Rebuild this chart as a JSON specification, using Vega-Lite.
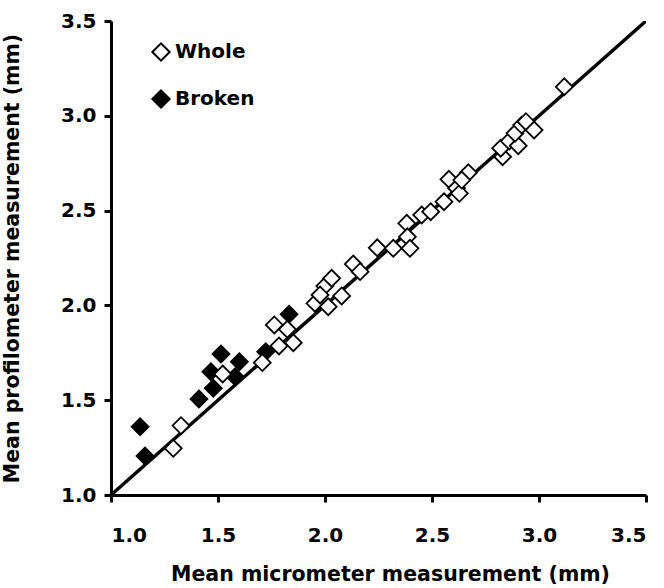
{
  "$schema": "https://vega.github.io/schema/vega-lite/v6.json",
  "width": 535,
  "height": 474,
  "autosize": "none",
  "padding": {"left": 111, "top": 21, "right": 18, "bottom": 93},
  "background": "white",
  "config": {
    "view": {"stroke": null},
    "font": "DejaVu Sans",
    "axis": {
      "grid": false,
      "domainColor": "black",
      "domainWidth": 3,
      "tickColor": "black",
      "tickWidth": 3,
      "tickSize": 7,
      "labelFont": "DejaVu Sans",
      "labelFontSize": 20,
      "labelFontWeight": "bold",
      "labelColor": "black",
      "titleFont": "DejaVu Sans",
      "titleFontSize": 20.5,
      "titleFontWeight": "bold",
      "titleColor": "black"
    }
  },
  "datasets": {
    "pts": [
      {"micrometer": 1.136, "profilometer": 1.36, "type": "Broken"},
      {"micrometer": 1.159, "profilometer": 1.206, "type": "Broken"},
      {"micrometer": 1.411, "profilometer": 1.506, "type": "Broken"},
      {"micrometer": 1.478, "profilometer": 1.563, "type": "Broken"},
      {"micrometer": 1.467, "profilometer": 1.65, "type": "Broken"},
      {"micrometer": 1.514, "profilometer": 1.744, "type": "Broken"},
      {"micrometer": 1.60, "profilometer": 1.703, "type": "Broken"},
      {"micrometer": 1.58, "profilometer": 1.624, "type": "Broken"},
      {"micrometer": 1.723, "profilometer": 1.756, "type": "Broken"},
      {"micrometer": 1.832, "profilometer": 1.953, "type": "Broken"},
      {"micrometer": 1.291, "profilometer": 1.246, "type": "Whole"},
      {"micrometer": 1.327, "profilometer": 1.366, "type": "Whole"},
      {"micrometer": 1.522, "profilometer": 1.638, "type": "Whole"},
      {"micrometer": 1.707, "profilometer": 1.698, "type": "Whole"},
      {"micrometer": 1.785, "profilometer": 1.786, "type": "Whole"},
      {"micrometer": 1.852, "profilometer": 1.803, "type": "Whole"},
      {"micrometer": 1.763, "profilometer": 1.897, "type": "Whole"},
      {"micrometer": 1.824, "profilometer": 1.874, "type": "Whole"},
      {"micrometer": 1.953, "profilometer": 2.011, "type": "Whole"},
      {"micrometer": 2.015, "profilometer": 1.993, "type": "Whole"},
      {"micrometer": 1.999, "profilometer": 2.102, "type": "Whole"},
      {"micrometer": 2.031, "profilometer": 2.143, "type": "Whole"},
      {"micrometer": 1.977, "profilometer": 2.055, "type": "Whole"},
      {"micrometer": 2.078, "profilometer": 2.05, "type": "Whole"},
      {"micrometer": 2.132, "profilometer": 2.218, "type": "Whole"},
      {"micrometer": 2.164, "profilometer": 2.178, "type": "Whole"},
      {"micrometer": 2.244, "profilometer": 2.304, "type": "Whole"},
      {"micrometer": 2.319, "profilometer": 2.301, "type": "Whole"},
      {"micrometer": 2.382, "profilometer": 2.433, "type": "Whole"},
      {"micrometer": 2.385, "profilometer": 2.362, "type": "Whole"},
      {"micrometer": 2.397, "profilometer": 2.301, "type": "Whole"},
      {"micrometer": 2.452, "profilometer": 2.477, "type": "Whole"},
      {"micrometer": 2.494, "profilometer": 2.494, "type": "Whole"},
      {"micrometer": 2.556, "profilometer": 2.547, "type": "Whole"},
      {"micrometer": 2.579, "profilometer": 2.665, "type": "Whole"},
      {"micrometer": 2.615, "profilometer": 2.618, "type": "Whole"},
      {"micrometer": 2.628, "profilometer": 2.591, "type": "Whole"},
      {"micrometer": 2.67, "profilometer": 2.70, "type": "Whole"},
      {"micrometer": 2.639, "profilometer": 2.661, "type": "Whole"},
      {"micrometer": 3.118, "profilometer": 3.153, "type": "Whole"},
      {"micrometer": 2.83, "profilometer": 2.784, "type": "Whole"},
      {"micrometer": 2.821, "profilometer": 2.829, "type": "Whole"},
      {"micrometer": 2.861, "profilometer": 2.867, "type": "Whole"},
      {"micrometer": 2.903, "profilometer": 2.842, "type": "Whole"},
      {"micrometer": 2.888, "profilometer": 2.908, "type": "Whole"},
      {"micrometer": 2.919, "profilometer": 2.951, "type": "Whole"},
      {"micrometer": 2.939, "profilometer": 2.969, "type": "Whole"},
      {"micrometer": 2.977, "profilometer": 2.925, "type": "Whole"}
    ],
    "identity": [
      {"micrometer": 1.0, "profilometer": 1.0},
      {"micrometer": 3.5, "profilometer": 3.5}
    ]
  },
  "layer": [
    {
      "data": {"name": "identity"},
      "mark": {"type": "line", "color": "black", "strokeWidth": 3.5, "clip": true},
      "encoding": {
        "x": {"field": "micrometer", "type": "quantitative"},
        "y": {"field": "profilometer", "type": "quantitative"}
      }
    },
    {
      "data": {"name": "pts"},
      "mark": {"type": "point", "shape": "diamond", "filled": true, "stroke": "black", "strokeWidth": 1.8, "opacity": 1, "size": 285},
      "encoding": {
        "x": {
          "field": "micrometer", "type": "quantitative",
          "scale": {"domain": [1, 3.5], "nice": false, "zero": false},
          "axis": {"values": [1, 1.5, 2, 2.5, 3, 3.5], "format": ".1f", "labelPadding": 23, "title": "Mean micrometer measurement (mm)", "titlePadding": 19, "titleX": 279}
        },
        "y": {
          "field": "profilometer", "type": "quantitative",
          "scale": {"domain": [1, 3.5], "nice": false, "zero": false},
          "axis": {"values": [1, 1.5, 2, 2.5, 3, 3.5], "format": ".1f", "labelPadding": 8, "title": "Mean profilometer measurement (mm)", "titlePadding": 38}
        },
        "fill": {
          "field": "type", "type": "nominal",
          "scale": {"domain": ["Whole", "Broken"], "range": ["white", "black"]},
          "legend": {
            "title": null,
            "orient": "none",
            "legendX": 40,
            "legendY": 21,
            "padding": 0,
            "symbolType": "diamond",
            "symbolSize": 300,
            "symbolStrokeColor": "black",
            "symbolStrokeWidth": 2,
            "symbolOpacity": 1,
            "labelFont": "DejaVu Sans",
            "labelFontSize": 20,
            "labelFontWeight": "bold",
            "labelColor": "black",
            "labelOffset": 4,
            "rowPadding": 21
          }
        }
      }
    }
  ]
}
